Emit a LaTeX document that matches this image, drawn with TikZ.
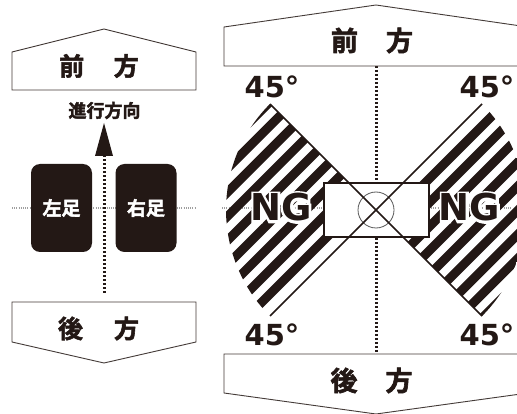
\documentclass[tikz,border=0pt]{standalone}
\usepackage{fontspec}
\setmainfont{DejaVu Sans}
\newfontfamily\jpb{Noto Sans CJK JP Bold}[FakeBold=2.2]
\newfontfamily\djb{DejaVu Sans Bold}
\newfontfamily\djbhalo{DejaVu Sans Bold}[FakeBold=13]
\definecolor{ink}{HTML}{231815}
\tikzset{
  frame/.style={draw=ink!85, line width=0.9pt, fill=white},
  jpt/.style={font=\jpb\fontsize{25}{25}\selectfont, text=ink, inner sep=0pt},
  jptbig/.style={font=\jpb\fontsize{27}{27}\selectfont, text=ink, inner sep=0pt},
  dir/.style={font=\jpb\fontsize{18}{18}\selectfont, text=ink, inner sep=0pt},
  dotv/.style={draw=ink, line width=3pt, dash pattern=on 2.2pt off 1.8pt},
  doth/.style={draw=gray!75, line width=1.2pt, dash pattern=on 1pt off 1.2pt},
  foot/.style={fill=ink, rounded corners=9pt, minimum width=61pt, minimum height=88pt, inner sep=0pt, text=white, font=\jpb\fontsize{19}{19}\selectfont},
  diag/.style={draw=ink, line width=1.5pt},
  deg/.style={font=\djb\fontsize{29}{29}\selectfont, text=ink, inner sep=0pt, anchor=base},
  ng/.style={font=\djb\fontsize{37}{37}\selectfont, inner sep=0pt, text=ink},
  nghalo/.style={font=\djbhalo\fontsize{37}{37}\selectfont, inner sep=0pt, text=white},
  stripe/.style={fill=ink},
}
\begin{document}
\begin{tikzpicture}[x=1pt,y=-1pt]
\useasboundingbox (0,0) rectangle (517,414);
\clip (0,0) rectangle (517,414);
\fill[white] (0,0) rectangle (517,414);

% ---------------- left panel ----------------
\draw[frame] (12,90) -- (12,52) -- (104,29) -- (196,52) -- (196,90) -- cycle;
\node[jpt] (lfront) at (99,66) {前\hspace{29.5pt}方};
\node[dir] (dirtext) at (104.5,110.5) {進行方向};

\coordinate (hl1) at (12,208);
\coordinate (hl2) at (196,208);
\draw[doth] (hl1) -- (hl2);

\coordinate (arrowfoot) at (104,293);
\coordinate (arrowbase) at (104,155);
\draw[dotv] (arrowfoot) -- (arrowbase);
\fill[ink] (104,123) -- (95,156) -- (113,156) -- cycle;

\node[foot] (lfoot) at (61.5,208) {左足};
\node[foot] (rfoot) at (146,208) {右足};

\draw[frame] (12,302) -- (196,302) -- (196,342) -- (104,363) -- (12,342) -- cycle;
\node[jpt] (lback) at (98.5,328.5) {後\hspace{31pt}方};

% ---------------- right panel ----------------
\coordinate (C) at (376,210);
\coordinate (UL) at (270,104);
\coordinate (LR) at (482,316);
\coordinate (UR) at (482,104);
\coordinate (LL) at (270,316);

\coordinate (hr1) at (222,208);
\coordinate (hr2) at (512,208);
\draw[doth] (hr1) -- (hr2);

\begin{scope}
  \clip (376,210) -- plot[domain=135:225,samples=40] ({376+150*cos(\x)},{210+150*sin(\x)}) -- cycle
        (376,210) -- plot[domain=-45:45,samples=40] ({376+150*cos(\x)},{210+150*sin(\x)}) -- cycle;
  \begin{scope}[shift={(376,210)}, rotate=45]
    \foreach \k in {0,...,8} {
      \fill[stripe] (-230,{11+17*\k}) rectangle (230,{20+17*\k});
      \fill[stripe] (-230,{-11-17*\k}) rectangle (230,{-20-17*\k});
    }
  \end{scope}
\end{scope}

\coordinate (vt) at (376,66);
\coordinate (vb) at (376,354);
\draw[dotv] (vt) -- (vb);

\node[draw=ink, line width=1.2pt, fill=white, minimum width=105pt, minimum height=54pt, inner sep=0pt] (box) at (376.5,210) {};
\node[circle, draw=gray!70!black, line width=0.8pt, minimum size=36pt, inner sep=0pt] (circ) at (C) {};
\draw[diag] (UL) -- (LR);
\draw[diag] (UR) -- (LL);

\node[nghalo] (ngLh) at (281,207.5) {NG};
\node[nghalo] (ngRh) at (469.5,207.5) {NG};
\node[ng] (ngL) at (281,207.5) {NG};
\node[ng] (ngR) at (469.5,207.5) {NG};

\node[deg] (d1) at (272,98) {45°};
\node[deg] (d2) at (487,98) {45°};
\node[deg] (d3) at (272,345) {45°};
\node[deg] (d4) at (487,345) {45°};

\draw[frame] (224,66) -- (224,27) -- (376,5) -- (528,27) -- (528,66) -- cycle;
\node[jptbig] (rfront) at (372,40.5) {前\hspace{28pt}方};

\draw[frame] (224,354) -- (528,354) -- (528,393) -- (376,414) -- (224,393) -- cycle;
\node[jptbig] (rback) at (371.5,380.5) {後\hspace{28pt}方};
\end{tikzpicture}
\end{document}
